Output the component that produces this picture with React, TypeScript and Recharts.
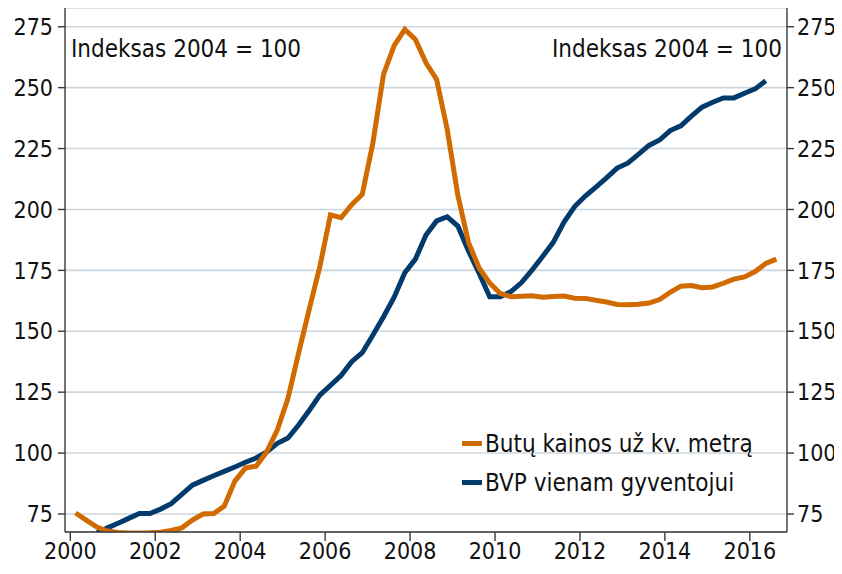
import React from "react";
import { LineChart, Line, XAxis, YAxis, CartesianGrid } from "recharts";

// quarterly index values, 2004 = 100
const firstYear = 2000;
const yearTicks = [2000, 2002, 2004, 2006, 2008, 2010, 2012, 2014, 2016];
const valueTicks = [75, 100, 125, 150, 175, 200, 225, 250, 275];

const flatPrices = [
  75.4, 72.5, 69.6, 68.0, 67.4, 67.2, 67.2, 67.3, 67.5, 68.2, 69.3, 72.5,
  75.0, 75.2, 78.2, 88.5, 93.9, 94.6, 100.5, 109.5, 122.5, 141.0, 159.0, 176.5,
  197.8, 196.6, 202.0, 206.2, 227.4, 255.5, 267.3, 273.9, 269.8, 260.2, 253.4, 232.8,
  205.8, 186.5, 176.0, 169.8, 165.5, 164.2, 164.4, 164.6, 164.0, 164.3, 164.5, 163.6,
  163.5, 162.7, 162.0, 161.0, 160.9, 161.1, 161.6, 163.0, 166.0, 168.5, 168.8, 167.9,
  168.2, 169.7, 171.4, 172.3, 174.5, 177.8, 179.6,
];

const gdpPerCapita = [
  null, null, 67.2, 69.3, 71.2, 73.2, 75.2, 75.2, 77.0, 79.2, 83.0, 86.8,
  88.8, 90.7, 92.5, 94.3, 96.2, 98.0, 100.5, 104.0, 106.2, 111.5, 117.5, 123.8,
  127.8, 131.8, 137.5, 141.2, 148.5, 156.0, 164.0, 174.0, 179.6, 189.5, 195.3, 197.0,
  193.2, 183.0, 173.8, 164.2, 164.2, 166.3, 170.0, 175.2, 180.8, 186.6, 194.8, 201.2,
  205.5, 209.2, 213.0, 217.0, 219.0, 222.6, 226.3, 228.5, 232.4, 234.3, 238.3, 242.0,
  244.0, 245.8, 245.8, 247.7, 249.5, 252.8,
];

const seriesNames = ["Butų kainos už kv. metrą", "BVP vienam gyventojui"];
const seriesColors = ["#d16a00", "#013a6b"];

// each quarter plotted at its mid point
const rows = flatPrices.map((v, i) => ({
  t: firstYear + 0.125 + i * 0.25,
  prices: v,
  gdp: i < gdpPerCapita.length ? gdpPerCapita[i] : null,
}));

const font = "'DejaVu Sans Condensed', 'DejaVu Sans', sans-serif";
const tickStyle = { fontSize: 23, fill: "#111", fontFamily: font, fontStretch: "condensed" as const };
const axisColor = "#3a3a3a";

const textStyle = {
  fontFamily: font,
  fontStretch: "condensed" as const,
  fontSize: 24,
  color: "#111",
  lineHeight: "30px",
  whiteSpace: "nowrap" as const,
};

// svg text was getting clipped at the surface edge on the right axis
const pageCss = `
html, body { overflow: hidden; }
.recharts-surface { overflow: visible; }
.recharts-cartesian-axis-tick text { font-stretch: condensed; }
`;

function LegendBox() {
  return (
    <div style={{ position: "absolute", left: 454, top: 416, ...textStyle }}>
      {seriesNames.map((name, i) => (
        <div key={name} style={{ display: "flex", alignItems: "center", height: 39 }}>
          <span style={{ width: 20, height: 5, background: seriesColors[i], marginRight: 3 }} />
          <span>{name}</span>
        </div>
      ))}
    </div>
  );
}

export default function App() {
  return (
    <div style={{ position: "relative", width: 834, height: 566 }}>
      <style>{pageCss}</style>
      <LineChart width={834} height={566} data={rows} margin={{ top: 0, right: 0, left: 0, bottom: 0 }}>
        <CartesianGrid yAxisId="left" vertical={false} stroke="#cbd6de" strokeWidth={1.6} />
        <XAxis
          dataKey="t"
          type="number"
          domain={[1999.875, 2016.875]}
          ticks={yearTicks}
          allowDataOverflow
          height={42}
          tickSize={9}
          tickMargin={2}
          tick={tickStyle}
          stroke={axisColor}
          strokeWidth={1.4}
        />
        <YAxis
          yAxisId="left"
          type="number"
          domain={[67.6, 282.7]}
          ticks={valueTicks}
          allowDataOverflow
          width={57}
          tickSize={7}
          tickMargin={5}
          tick={tickStyle}
          stroke={axisColor}
          strokeWidth={1.4}
        />
        <YAxis
          yAxisId="right"
          orientation="right"
          type="number"
          domain={[67.6, 282.7]}
          ticks={valueTicks}
          allowDataOverflow
          width={55}
          tickSize={7}
          tickMargin={3}
          tick={tickStyle}
          stroke={axisColor}
          strokeWidth={1.4}
        />
        <Line
          yAxisId="left"
          dataKey="gdp"
          type="linear"
          stroke={seriesColors[1]}
          strokeWidth={5}
          dot={false}
          isAnimationActive={false}
        />
        <Line
          yAxisId="left"
          dataKey="prices"
          type="linear"
          stroke={seriesColors[0]}
          strokeWidth={5}
          dot={false}
          isAnimationActive={false}
        />
      </LineChart>
      <LegendBox />
      <div style={{ position: "absolute", left: 63, top: 26, ...textStyle }}>Indeksas 2004 = 100</div>
      <div style={{ position: "absolute", left: 774, top: 26, transform: "translateX(-100%)", ...textStyle }}>
        Indeksas 2004 = 100
      </div>
    </div>
  );
}
